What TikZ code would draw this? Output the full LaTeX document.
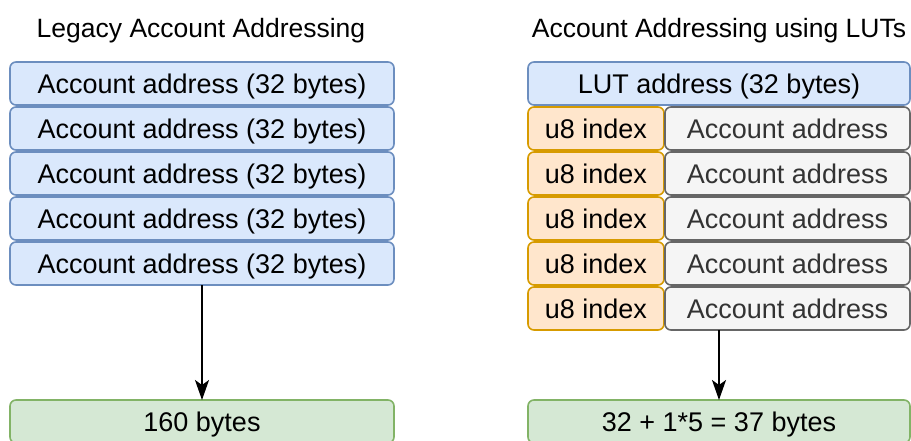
\documentclass[tikz,border=0pt]{standalone}
\usepackage{fontspec}
\setmainfont{Liberation Sans}
\usetikzlibrary{arrows.meta}
\definecolor{blueFill}{HTML}{DAE8FC}
\definecolor{blueLine}{HTML}{6C8EBF}
\definecolor{orangeFill}{HTML}{FFE6CC}
\definecolor{orangeLine}{HTML}{D79B00}
\definecolor{grayFill}{HTML}{F5F5F5}
\definecolor{grayLine}{HTML}{666666}
\definecolor{grayText}{HTML}{333333}
\definecolor{greenFill}{HTML}{D5E8D4}
\definecolor{greenLine}{HTML}{82B366}

\begin{document}
\begin{tikzpicture}[
  x=1pt, y=-1pt,
  cell/.style={rounded corners=6pt, line width=1.6pt, inner sep=0pt, outer sep=0pt,
    minimum height=43pt, text height=20pt, text depth=0pt,
    font=\fontsize{27}{32}\selectfont},
  acct/.style={cell, fill=blueFill, draw=blueLine, minimum width=384pt},
  idx/.style={cell, fill=orangeFill, draw=orangeLine, minimum width=136pt},
  ref/.style={cell, fill=grayFill, draw=grayLine, text=grayText, minimum width=245pt},
  total/.style={cell, fill=greenFill, draw=greenLine, minimum width=384pt},
  title/.style={font=\fontsize{26.5}{32}\selectfont, inner sep=0pt, anchor=base},
  arr/.style={line width=1.5pt, -{Stealth[length=20pt, width=14pt, inset=5pt]}},
]
\useasboundingbox (0,0) rectangle (911,441);
\clip (0,0) rectangle (911,441);

% titles
\node[title] (legacyTitle) at (201,38) {Legacy Account Addressing};
\node[title] (lutTitle) at (719,38) {Account Addressing using LUTs};

% legacy side: five full addresses
\foreach \i in {1,...,5}{
  \node[acct] (acct\i) at (202,{38.5+45*\i}) {Account address (32 bytes)};
}
\node[total] (legacyTotal) at (202,421.5) {160 bytes};
\draw[arr] (acct5) -- (legacyTotal);

% LUT side: one table address, then u8 indices
\node[acct, minimum width=382pt] (lutAddr) at (719,83.5) {LUT address (32 bytes)};
\foreach \i in {1,...,5}{
  \node[idx] (idx\i) at (596,{83.5+45*\i}) {u8 index};
  \node[ref] (ref\i) at (787.5,{83.5+45*\i}) {Account address};
}
\node[total, minimum width=382pt] (lutTotal) at (719,421.5) {32 + 1*5 = 37 bytes};
\draw[arr] (ref5.south -| lutTotal.north) -- (lutTotal.north);
\end{tikzpicture}
\end{document}
